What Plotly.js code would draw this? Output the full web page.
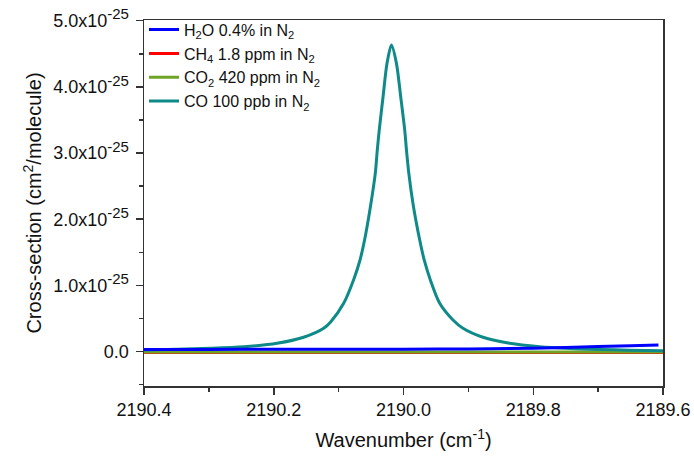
<!DOCTYPE html>
<html>
<head>
<meta charset="utf-8">
<script src="https://cdn.plot.ly/plotly-3.0.1.min.js"></script>
<style>html,body{margin:0;padding:0;background:#fff;}#chart{width:694px;height:457px;}</style>
</head>
<body>
<div id="chart"></div>
<script>
// Units of 1e-25 cm^2/molecule
const scale = 1e-25;

const coX = [2190.400, 2190.349, 2190.297, 2190.246, 2190.195, 2190.154, 2190.123, 2190.112,
  2190.092, 2190.077, 2190.067, 2190.060, 2190.051, 2190.0435, 2190.0404, 2190.0374,
  2190.0315, 2190.0254, 2190.0186, 2190.0109, 2190.0043, 2189.9981, 2189.9954, 2189.9918,
  2189.9846, 2189.9750, 2189.9681, 2189.9586, 2189.9442, 2189.9237, 2189.9083,
  2189.8775, 2189.8364, 2189.7902, 2189.744, 2189.698, 2189.652, 2189.600];
const coY = [0.024, 0.035, 0.050, 0.074, 0.125, 0.216, 0.352, 0.452,
  0.734, 1.082, 1.384, 1.686, 2.189, 2.693, 3.045, 3.347,
  3.850, 4.355, 4.631, 4.355, 3.850, 3.347, 3.045, 2.693,
  2.189, 1.686, 1.384, 1.082, 0.730, 0.477, 0.352,
  0.216, 0.125, 0.074, 0.047, 0.032, 0.021, 0.014];

const h2oX = [2190.4, 2190.3, 2190.2, 2190.1, 2190.0, 2189.9, 2189.8, 2189.75, 2189.7, 2189.65, 2189.607];
const h2oY = [0.032, 0.033, 0.034, 0.035, 0.037, 0.040, 0.050, 0.062, 0.075, 0.088, 0.100];

const ch4X = [2190.4, 2190.0, 2189.6];
const ch4Y = [-0.015, -0.015, -0.015];

const co2X = [2190.4, 2190.0, 2189.6];
const co2Y = [-0.008, -0.008, -0.008];

const yTickVals = [0, 1, 2, 3, 4, 5];
const yTickMant = ['0.0', '1.0', '2.0', '3.0', '4.0', '5.0'];
const yTickExp = '-25';
const xTickVals = [2190.4, 2190.2, 2190.0, 2189.8, 2189.6];

const names = ['H<sub>2</sub>O 0.4% in N<sub>2</sub>', 'CH<sub>4</sub> 1.8 ppm in N<sub>2</sub>',
  'CO<sub>2</sub> 420 ppm in N<sub>2</sub>', 'CO 100 ppb in N<sub>2</sub>'];

const sc = a => a.map(v => v * scale);
const yTickText = yTickMant.map((m, i) => i === 0 ? m :
  m + 'x10<sup><span style="font-size:15px">' + yTickExp + '</span></sup>');

const traces = [
  {x: ch4X, y: sc(ch4Y), name: names[1], mode: 'lines', line: {color: '#ff0000', width: 3}, legendrank: 2},
  {x: co2X, y: sc(co2Y), name: names[2], mode: 'lines', line: {color: '#6ea528', width: 3}, legendrank: 3},
  {x: coX, y: sc(coY), name: names[3], mode: 'lines', line: {color: '#0e8a88', width: 3, shape: 'spline', smoothing: 0.8}, legendrank: 4},
  {x: h2oX, y: sc(h2oY), name: names[0], mode: 'lines', line: {color: '#0000ff', width: 3, shape: 'spline'}, legendrank: 1}
];

const layout = {
  width: 694, height: 457,
  margin: {l: 144, r: 31, t: 20, b: 71},
  paper_bgcolor: '#fff', plot_bgcolor: '#fff',
  font: {family: 'Liberation Sans, Arial, sans-serif', color: '#111'},
  showlegend: true,
  legend: {x: 0.0, y: 1.02, xanchor: 'left', yanchor: 'top', bgcolor: 'rgba(0,0,0,0)',
    font: {size: 16, color: '#111'}, tracegroupgap: 0, itemwidth: 30},
  xaxis: {
    range: [2190.4, 2189.6], tickmode: 'array', tickvals: xTickVals, tickformat: '.1f',
    ticks: 'outside', ticklen: 7, tickwidth: 1.5, tickcolor: '#333',
    showline: true, linecolor: '#333', linewidth: 1.5, mirror: true,
    showgrid: false, zeroline: false,
    tickfont: {size: 18},
    minor: {tickmode: 'linear', tick0: 2189.6, dtick: 0.1, ticks: 'outside', ticklen: 4, tickcolor: '#333', tickwidth: 1.5, showgrid: false},
    title: {text: 'Wavenumber (cm<sup>-1</sup>)', font: {size: 20}, standoff: 14}
  },
  yaxis: {
    range: [-0.52e-25, 5.01e-25], tickmode: 'array', tickvals: sc(yTickVals), ticktext: yTickText,
    ticks: 'outside', ticklen: 7, tickwidth: 1.5, tickcolor: '#333', ticklabelstandoff: 3,
    showline: true, linecolor: '#333', linewidth: 1.5, mirror: true,
    showgrid: false, zeroline: false,
    tickfont: {size: 18},
    minor: {tickmode: 'linear', tick0: 0.5e-25, dtick: 1e-25, ticks: 'outside', ticklen: 4, tickcolor: '#333', tickwidth: 1.5, showgrid: false},
    title: {text: 'Cross-section (cm<sup>2</sup>/molecule)', font: {size: 20}, standoff: 6}
  }
};

Plotly.newPlot('chart', traces, layout, {displayModeBar: false, staticPlot: true});
</script>
</body>
</html>
